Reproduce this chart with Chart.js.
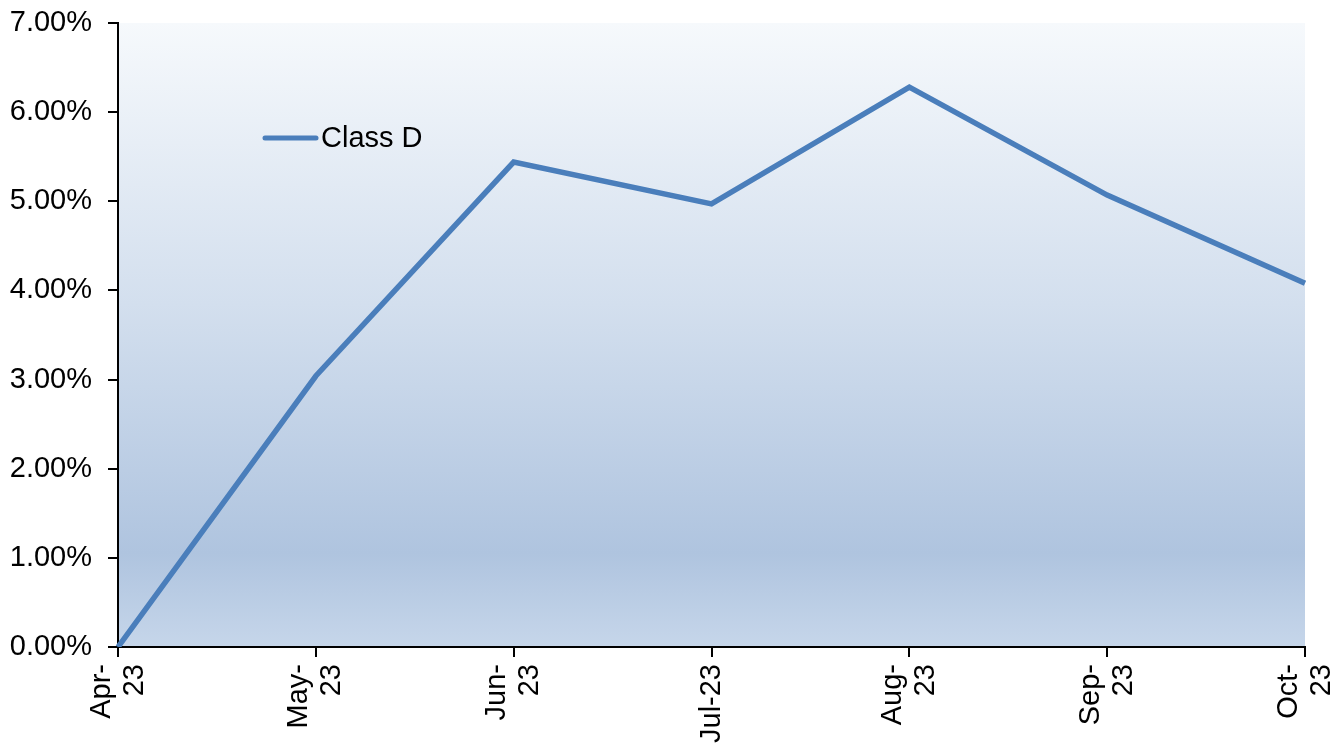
<!DOCTYPE html>
<html>
<head>
<meta charset="utf-8">
<title>Class D</title>
<script src="https://cdn.jsdelivr.net/npm/chart.js@4/dist/chart.umd.min.js"></script>
<style>
  html, body { margin: 0; padding: 0; background: #ffffff; }
  #chart { display: block; }
</style>
</head>
<body>
<canvas id="chart" width="1335" height="744"></canvas>
<script>
// dati
const months = [['Apr-', '23'], ['May-', '23'], ['Jun-', '23'], ['', 'Jul-23'], ['Aug-', '23'], ['Sep-', '23'], ['Oct-', '23']];
const classD = [0.0, 3.04, 5.44, 4.97, 6.28, 5.07, 4.08];
const yTicks = [0, 1, 2, 3, 4, 5, 6, 7];

const FONT = '"Liberation Sans", Arial, sans-serif';
const FONT_SIZE = 29;
const LINE_H = 33;
const LINE_COLOR = '#4a7ebb';

// sfondo sfumato dell'area del grafico
const plotBackground = {
    id: 'plotBackground',
    beforeDraw(chart) {
        const { ctx, chartArea: a } = chart;
        const g = ctx.createLinearGradient(0, a.top, 0, a.bottom);
        g.addColorStop(0, '#f6f9fc');
        g.addColorStop(0.45, '#d3dfee');
        g.addColorStop(0.85, '#afc4df');
        g.addColorStop(1, '#c6d6ea');
        ctx.save();
        ctx.fillStyle = g;
        ctx.fillRect(a.left, a.top, a.right - a.left, a.bottom - a.top);
        ctx.restore();
    }
};

// legenda dentro l'area del grafico
const innerLegend = {
    id: 'innerLegend',
    afterDraw(chart) {
        const ctx = chart.ctx;
        const ds = chart.data.datasets[0];
        ctx.save();
        ctx.strokeStyle = ds.borderColor;
        ctx.lineWidth = 5;
        ctx.lineCap = 'round';
        ctx.beginPath();
        ctx.moveTo(265, 138);
        ctx.lineTo(316, 138);
        ctx.stroke();
        ctx.fillStyle = '#000';
        ctx.font = FONT_SIZE + 'px ' + FONT;
        ctx.textBaseline = 'middle';
        ctx.fillText(ds.label, 321, 139);
        ctx.restore();
    }
};

new Chart(document.getElementById('chart'), {
    type: 'line',
    data: {
        labels: months,
        datasets: [{
            label: 'Class D',
            data: classD,
            borderColor: LINE_COLOR,
            borderWidth: 5.5,
            pointRadius: 0,
            tension: 0,
            fill: false
        }]
    },
    options: {
        responsive: false,
        animation: false,
        devicePixelRatio: 1,
        layout: { padding: { top: 23, right: 30, left: 0, bottom: 0 } },
        plugins: {
            legend: { display: false },
            tooltip: { enabled: false }
        },
        scales: {
            x: {
                offset: false,
                grid: { drawOnChartArea: false, drawTicks: true, tickLength: 10, color: '#000', lineWidth: 2 },
                border: { color: '#000', width: 2 },
                ticks: {
                    autoSkip: false,
                    minRotation: 90,
                    maxRotation: 90,
                    padding: 7,
                    labelOffset: -LINE_H / 2,
                    color: '#000',
                    // Jul-23 sta su una riga sola, centrata sul tick
                    font: c => ({ family: FONT, size: FONT_SIZE, lineHeight: (c.index === 3 ? LINE_H / 2 : LINE_H) + 'px' })
                },
                afterFit(scale) {
                    scale.height = 97;
                    scale.paddingLeft = 0;
                    scale.paddingRight = 0;
                }
            },
            y: {
                min: 0,
                max: 7,
                afterBuildTicks(scale) { scale.ticks = yTicks.map(v => ({ value: v })); },
                grid: { drawOnChartArea: false, drawTicks: true, tickLength: 10, color: '#000', lineWidth: 2 },
                border: { color: '#000', width: 2 },
                ticks: {
                    padding: 16,
                    color: '#000',
                    font: { family: FONT, size: FONT_SIZE },
                    callback: v => v.toFixed(2) + '%'
                },
                afterFit(scale) {
                    scale.width = 118;
                    scale.paddingTop = 0;
                    scale.paddingBottom = 0;
                }
            }
        }
    },
    plugins: [plotBackground, innerLegend]
});
</script>
</body>
</html>
